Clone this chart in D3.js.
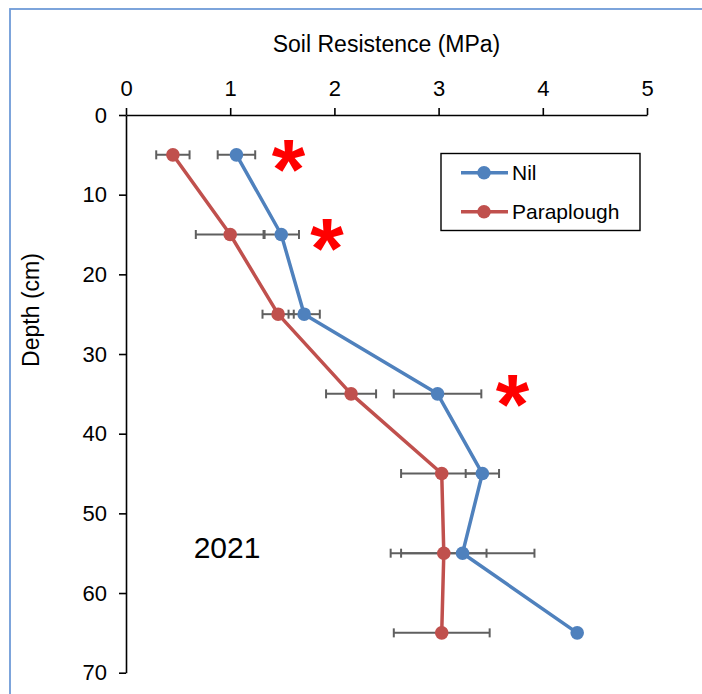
<!DOCTYPE html>
<html>
<head>
<meta charset="utf-8">
<script src="https://cdn.jsdelivr.net/npm/d3@7"></script>
<style>
  body { margin: 0; background: #fff; }
  text { font-family: "Liberation Sans", Arial, sans-serif; }
</style>
</head>
<body>
<div id="chart"></div>
<script>
var depth = [5, 15, 25, 35, 45, 55, 65];
var nilValues = [1.06, 1.49, 1.71, 2.99, 3.42, 3.23, 4.33];
var nilErrors = [0.18, 0.17, 0.15, 0.42, 0.16, 0.69, 0];
var paraValues = [0.45, 1.00, 1.46, 2.16, 3.03, 3.05, 3.03];
var paraErrors = [0.16, 0.33, 0.15, 0.24, 0.39, 0.41, 0.46];
var xTicks = [0, 1, 2, 3, 4, 5];
var yTicks = [0, 10, 20, 30, 40, 50, 60, 70];
var starX = [1.56, 1.93, 3.71];
var starY = [4.8, 14.7, 34.3];
var seriesNames = ['Nil', 'Paraplough'];
var yearLabel = '2021';

var width = 702, height = 694;

var x = d3.scaleLinear().domain([0, 5]).range([126, 647]);
var y = d3.scaleLinear().domain([0, 70]).range([115, 672.7]);

var svg = d3.select('#chart').append('svg')
    .attr('width', width)
    .attr('height', height);

// outer frame (excel chart border)
svg.append('rect')
    .attr('x', 10).attr('y', 9)
    .attr('width', 800).attr('height', 800)
    .style('fill', 'none')
    .style('stroke', '#6F9BD8')
    .style('stroke-width', 1.8)

// axes
var xAxis = svg.append('g')
    .attr('transform', 'translate(0,' + y(0) + ')')
    .call(d3.axisTop(x).tickValues(xTicks).tickFormat(d3.format('d'))
        .tickSize(7).tickSizeOuter(0).tickPadding(12));

var yAxis = svg.append('g')
    .attr('transform', 'translate(' + x(0) + ',0)')
    .call(d3.axisLeft(y).tickValues(yTicks).tickFormat(d3.format('d'))
        .tickSize(7).tickSizeOuter(0).tickPadding(12));

[xAxis, yAxis].forEach(function (g) {
    g.select('.domain').style('stroke', '#000').style('stroke-width', 1.6);
    g.selectAll('.tick line').style('stroke', '#000').style('stroke-width', 1.6);
    g.selectAll('.tick text')
        .style('font-size', '22px')
        .style('fill', '#000')
        .style('font-family', '"Liberation Sans", Arial, sans-serif');
});

svg.append('text')
    .attr('x', (x(0) + x(5)) / 2)
    .attr('y', 52)
    .attr('text-anchor', 'middle')
    .style('font-size', '23px')
    .text('Soil Resistence (MPa)')

svg.append('text')
    .attr('transform', 'translate(39,310) rotate(-90)')
    .attr('text-anchor', 'middle')
    .style('font-size', '23px')
    .text('Depth (cm)')

var series = [
    { name: seriesNames[0], values: nilValues, errors: nilErrors, color: '#4F81BD' },
    { name: seriesNames[1], values: paraValues, errors: paraErrors, color: '#C0504D' }
];

// error bars
series.forEach(function (s) {
    var g = svg.append('g').attr('class', 'errors');
    var pts = depth.map(function (d, i) { return { d: d, v: s.values[i], e: s.errors[i] }; })
        .filter(function (p) { return p.e > 0; });
    g.selectAll('line.bar')
        .data(pts)
        .enter()
        .append('line')
        .attr('x1', function (p) { return x(p.v - p.e); })
        .attr('x2', function (p) { return x(p.v + p.e); })
        .attr('y1', function (p) { return y(p.d); })
        .attr('y2', function (p) { return y(p.d); })
        .style('stroke', '#5f5f5f')
        .style('stroke-width', 2)
    var caps = [];
    pts.forEach(function (p) { caps.push({ d: p.d, v: p.v - p.e }); caps.push({ d: p.d, v: p.v + p.e }); });
    g.selectAll('line.cap')
        .data(caps)
        .enter()
        .append('line')
        .attr('x1', function (c) { return x(c.v); })
        .attr('x2', function (c) { return x(c.v); })
        .attr('y1', function (c) { return y(c.d) - 4.5; })
        .attr('y2', function (c) { return y(c.d) + 4.5; })
        .style('stroke', '#5f5f5f')
        .style('stroke-width', 2)
});

var line = d3.line()
    .x(function (p) { return x(p[0]); })
    .y(function (p) { return y(p[1]); });

series.forEach(function (s) {
    var pts = depth.map(function (d, i) { return [s.values[i], d]; });
    svg.append('path')
        .datum(pts)
        .attr('d', line)
        .style('fill', 'none')
        .style('stroke', s.color)
        .style('stroke-width', 3.5)
        .style('stroke-linejoin', 'round')
    svg.append('g').selectAll('circle')
        .data(pts)
        .enter()
        .append('circle')
        .attr('cx', function (p) { return x(p[0]); })
        .attr('cy', function (p) { return y(p[1]); })
        .attr('r', 6.8)
        .style('fill', s.color)
});

// significance markers
svg.append('g').selectAll('text')
    .data(starX)
    .enter()
    .append('text')
    .attr('x', function (d) { return x(d); })
    .attr('y', function (d, i) { return y(starY[i]) + 46; })
    .attr('text-anchor', 'middle')
    .style('font-size', '86px')
    .style('font-weight', 'bold')
    .style('fill', '#FF0000')
    .text('*')

svg.append('text')
    .attr('x', 227)
    .attr('y', 558)
    .attr('text-anchor', 'middle')
    .style('font-size', '30px')
    .text(yearLabel)

// legend
var legend = svg.append('g');
legend.append('rect')
    .attr('x', 441).attr('y', 153.5)
    .attr('width', 199).attr('height', 77)
    .style('fill', '#fff')
    .style('stroke', '#000')
    .style('stroke-width', 1.4)

series.forEach(function (s, i) {
    var ly = 172.7 + i * 39;
    legend.append('line')
        .attr('x1', 461).attr('x2', 508)
        .attr('y1', ly).attr('y2', ly)
        .style('stroke', s.color)
        .style('stroke-width', 3.5)
    legend.append('circle')
        .attr('cx', 484).attr('cy', ly)
        .attr('r', 6.8)
        .style('fill', s.color)
    legend.append('text')
        .attr('x', 512)
        .attr('y', ly + 7.5)
        .style('font-size', '21px')
        .text(s.name)
});
</script>
</body>
</html>
